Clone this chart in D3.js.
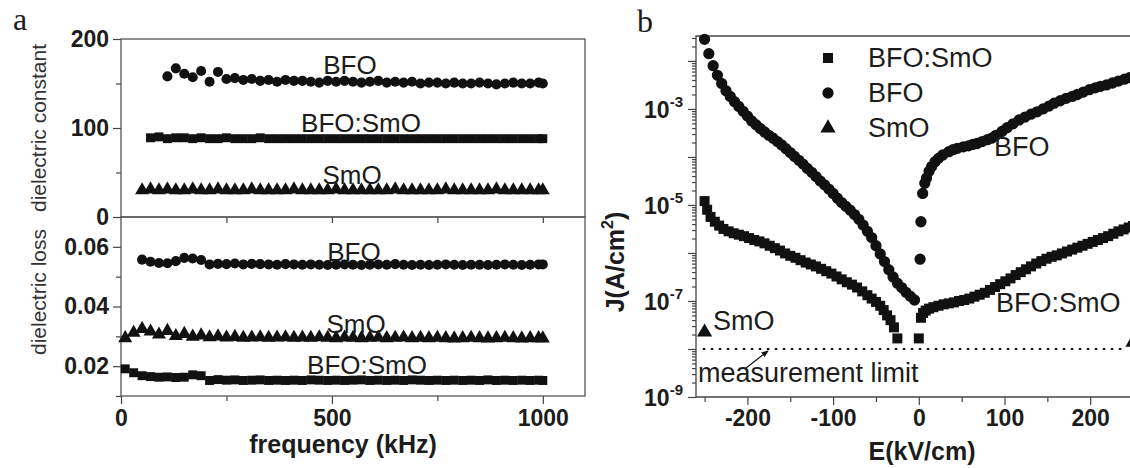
<!DOCTYPE html>
<meta charset="utf-8">
<style>
body{margin:0;background:#fff;}
svg text{font-family:"Liberation Sans", Arial, sans-serif; fill:#1c1c1c;}
.tick text{font-weight:bold;font-size:23px;}
.tick line{stroke:#444;stroke-width:1.2px;}
.note{font-size:26px;}
.title{font-size:25px;font-weight:bold;}
.ytitle{font-size:21px;fill:#333;}
.panel{font-family:"Liberation Serif", "DejaVu Serif", serif !important;font-size:32px;}
</style>
<svg id="fig" width="1130" height="468"></svg>
<script src="https://d3js.org/d3.v7.min.js"></script>
<script>
// ---- panel a data: frequency (kHz) shared by the six dielectric series ----
const freq = [10,30,50,70,90,110,130,150,170,190,
  210,230,250,270,290,310,330,350,370,390,
  410,430,450,470,490,510,530,550,570,590,
  610,630,650,670,690,710,730,750,770,790,
  810,830,850,870,890,910,930,950,970,990,
  1000]

// dielectric constant
const bfoConst = [null,null,null,null,null,158,167,161,157,164,
  152,163,155,156,154,155,153,154,152,154,
  153,153,152,151,153,152,153,152,151,152,
  153,151,152,151,152,150,151,151,150,151,
  150,150,151,150,149,150,151,150,150,151,
  150]
const bfoSmoConst = [null,null,null,89,90,88,89,89,88,89,
  88,88,89,88,88,88,89,88,88,88,
  88,88,88,88,88,88,88,88,88,88,
  88,88,88,88,88,88,88,88,88,88,
  88,88,88,88,88,88,88,88,88,88,
  88]
const smoConst = [null,null,30,31,30,31,30,30,31,30,
  30,31,30,30,30,31,30,30,30,30,
  31,30,30,30,30,31,30,30,30,30,
  30,30,31,30,30,30,30,30,31,30,
  30,30,30,30,31,30,30,30,30,30,
  30]

// dielectric loss
const bfoLoss = [null,null,0.0557,0.0550,0.0546,0.0545,0.0552,0.0563,0.0561,0.0556,
  0.0541,0.0543,0.0542,0.0544,0.0541,0.0543,0.0542,0.0541,0.0540,0.0542,
  0.0541,0.0540,0.0541,0.0540,0.0539,0.0540,0.0541,0.0540,0.0539,0.0540,
  0.0541,0.0540,0.0542,0.0540,0.0539,0.0540,0.0539,0.0540,0.0541,0.0540,
  0.0539,0.0540,0.0540,0.0539,0.0540,0.0541,0.0540,0.0539,0.0540,0.0541,
  0.0541]
const smoLoss = [0.0294,0.0312,0.0325,0.0316,0.0306,0.0318,0.0301,0.0308,0.0299,0.0303,
  0.0297,0.0300,0.0296,0.0298,0.0295,0.0296,0.0297,0.0295,0.0296,0.0297,
  0.0295,0.0296,0.0295,0.0297,0.0295,0.0294,0.0296,0.0295,0.0294,0.0295,
  0.0296,0.0294,0.0295,0.0296,0.0294,0.0295,0.0294,0.0295,0.0294,0.0293,
  0.0294,0.0295,0.0294,0.0293,0.0294,0.0295,0.0294,0.0293,0.0294,0.0294,
  0.0293]
const bfoSmoLoss = [0.0191,0.0178,0.0168,0.0165,0.0163,0.0164,0.0162,0.0163,0.0171,0.0168,
  0.0152,0.0155,0.0153,0.0154,0.0152,0.0153,0.0154,0.0152,0.0153,0.0152,
  0.0153,0.0152,0.0154,0.0153,0.0152,0.0153,0.0152,0.0153,0.0154,0.0152,
  0.0153,0.0152,0.0153,0.0152,0.0154,0.0153,0.0152,0.0153,0.0152,0.0153,
  0.0152,0.0153,0.0152,0.0154,0.0152,0.0153,0.0152,0.0153,0.0152,0.0153,
  0.0152]

// ---- panel b data: E (kV/cm) and log10 of J (A/cm2) ----
const bfoE = [-250,-245,-240,-235,-230,-225,-220,-215,-210,-205,
  -200,-195,-190,-185,-180,-175,-170,-165,-160,-155,
  -150,-145,-140,-135,-130,-125,-120,-115,-110,-105,
  -100,-95,-90,-85,-80,-75,-70,-65,-60,-55,
  -50,-45,-40,-35,-30,-25,-20,-15,-10,-5,
  1.5,2.5,4.5,7,9,12,15,19,23,28,
  35,40,45,52,58,63,68,74,80,85,
  90,97,103,110,117,124,131,138,145,152,
  158,165,172,179,185,192,199,206,212,219,
  226,233,240,246,250]
const bfoLogJ = [-1.55,-1.85,-2.10,-2.30,-2.47,-2.62,-2.74,-2.85,-2.95,-3.05,
  -3.15,-3.25,-3.33,-3.41,-3.48,-3.55,-3.61,-3.68,-3.75,-3.83,
  -3.91,-3.99,-4.07,-4.15,-4.24,-4.32,-4.41,-4.50,-4.58,-4.67,
  -4.76,-4.86,-4.95,-5.03,-5.11,-5.20,-5.30,-5.42,-5.55,-5.68,
  -5.85,-6.02,-6.18,-6.35,-6.50,-6.63,-6.72,-6.82,-6.90,-6.98,
  -6.13,-5.35,-4.76,-4.55,-4.44,-4.30,-4.20,-4.10,-4.03,-3.96,
  -3.89,-3.85,-3.82,-3.79,-3.77,-3.74,-3.72,-3.68,-3.64,-3.61,
  -3.55,-3.47,-3.39,-3.31,-3.23,-3.17,-3.11,-3.06,-3.00,-2.94,
  -2.88,-2.83,-2.78,-2.74,-2.70,-2.65,-2.60,-2.56,-2.53,-2.50,
  -2.46,-2.42,-2.38,-2.35,-2.33]

const bfoSmoE = [-250,-247,-243,-238,-233,-228,-222,-216,-210,-204,
  -198,-192,-186,-180,-174,-168,-162,-156,-150,-144,
  -138,-132,-126,-120,-114,-108,-102,-96,-90,-84,
  -78,-72,-66,-60,-55,-50,-45,-41,-37,-33,
  -29,-25,
  0,2.5,5,8,12,17,23,29,35,41,
  47,53,59,65,71,77,83,89,95,101,
  107,113,119,125,131,137,143,149,155,161,
  167,173,179,185,191,197,203,209,215,221,
  227,233,239,245,250]
const bfoSmoLogJ = [-4.92,-5.10,-5.25,-5.35,-5.43,-5.50,-5.55,-5.59,-5.62,-5.65,
  -5.69,-5.73,-5.76,-5.80,-5.85,-5.90,-5.95,-6.01,-6.06,-6.10,
  -6.15,-6.20,-6.24,-6.28,-6.33,-6.38,-6.43,-6.49,-6.55,-6.61,
  -6.66,-6.72,-6.80,-6.88,-6.95,-7.02,-7.10,-7.19,-7.30,-7.40,
  -7.55,-7.78,
  -7.78,-7.35,-7.25,-7.20,-7.16,-7.13,-7.10,-7.07,-7.05,-7.03,
  -7.00,-6.98,-6.95,-6.91,-6.87,-6.83,-6.77,-6.71,-6.65,-6.59,
  -6.53,-6.46,-6.40,-6.34,-6.28,-6.22,-6.17,-6.12,-6.08,-6.05,
  -6.01,-5.97,-5.93,-5.89,-5.85,-5.81,-5.77,-5.73,-5.69,-5.65,
  -5.60,-5.55,-5.51,-5.47,-5.44]

const smoE = [-250, 250]
const smoLogJ = [-7.65, -7.86]
const measLimit = 1e-8

const svg = d3.select('#fig')
const INK = '#111'
const plain = d => String(d) // hyphen minus like the original, not U+2212

// scales
const xA = d3.scaleLinear().domain([0, 1100]).range([121, 585])
const yK = d3.scaleLinear().domain([0, 200]).range([217, 39])
const yL = d3.scaleLinear().domain([0.01, 0.07]).range([396, 217])
const xB = d3.scaleLinear().domain([-260, 260]).range([696, 1141.6])
const yB = d3.scaleLog().domain([1e-9, 0.033]).range([397, 36])

function scatter(xs, ys, xs_, ys_, shape, size) {
  const pts = xs.map((x, i) => [x, ys[i]]).filter(d => d[1] != null)
  svg.append('g').selectAll('path').data(pts).join('path')
    .attr('d', d3.symbol(shape, size))
    .attr('transform', d => `translate(${xs_(d[0])},${ys_(d[1])})`)
    .attr('fill', INK)
}

function axis(gen, pos, horizontal) {
  const g = svg.append('g')
    .attr('transform', horizontal ? `translate(0,${pos})` : `translate(${pos},0)`)
    .call(gen)
  g.attr('font-size', null).attr('font-family', null)
  g.select('.domain').remove()
  return g
}

// ---------- panel a ----------
axis(d3.axisLeft(yK).tickValues([0, 100, 200]).tickSize(8).tickPadding(4).tickFormat(plain), 121)
axis(d3.axisLeft(yK).tickValues([50, 150]).tickSize(5).tickFormat(''), 121)
axis(d3.axisLeft(yL).tickValues([0.02, 0.04, 0.06]).tickSize(8).tickPadding(4).tickFormat(d3.format('.2f')), 121)
axis(d3.axisLeft(yL).tickValues([0.01, 0.03, 0.05]).tickSize(5).tickFormat(''), 121)
axis(d3.axisBottom(xA).tickValues([250, 500, 750, 1000]).tickSize(6).tickFormat(''), 217, true)
axis(d3.axisBottom(xA).tickValues([0, 500, 1000]).tickSize(8).tickPadding(6).tickFormat(plain), 396, true)
axis(d3.axisBottom(xA).tickValues([250, 750]).tickSize(5).tickFormat(''), 396, true)

svg.append('rect').attr('x', xA(0)).attr('y', yK(200))
  .attr('width', xA(1100) - xA(0)).attr('height', yK(0) - yK(200))
  .attr('fill', 'none').attr('stroke', '#555').attr('stroke-width', 1.3)
svg.append('rect').attr('x', xA(0)).attr('y', yL(0.07))
  .attr('width', xA(1100) - xA(0)).attr('height', yL(0.01) - yL(0.07))
  .attr('fill', 'none').attr('stroke', '#555').attr('stroke-width', 1.3)

scatter(freq, bfoConst, xA, yK, d3.symbolCircle, 80)
scatter(freq, bfoSmoConst, xA, yK, d3.symbolSquare, 80)
scatter(freq, smoConst, xA, yK, d3.symbolTriangle, 85)
scatter(freq, bfoLoss, xA, yL, d3.symbolCircle, 80)
scatter(freq, smoLoss, xA, yL, d3.symbolTriangle, 85)
scatter(freq, bfoSmoLoss, xA, yL, d3.symbolSquare, 80)

const notesA = [
  ['BFO', 350, 74], ['BFO:SmO', 361, 132], ['SmO', 352, 184],
  ['BFO', 354, 261], ['SmO', 356, 333], ['BFO:SmO', 367, 374]
]
svg.append('g').selectAll('text').data(notesA).join('text')
  .attr('class', 'note').attr('text-anchor', 'middle')
  .attr('x', d => d[1]).attr('y', d => d[2]).text(d => d[0])

svg.append('text').attr('class', 'ytitle').attr('text-anchor', 'middle')
  .attr('transform', 'translate(46,128) rotate(-90)').text('dielectric constant')
svg.append('text').attr('class', 'ytitle').attr('text-anchor', 'middle')
  .attr('transform', 'translate(46,292) rotate(-90)').text('dielectric loss')
svg.append('text').attr('class', 'title').attr('text-anchor', 'middle')
  .attr('x', 343).attr('y', 453).text('frequency (kHz)')
svg.append('text').attr('class', 'panel').attr('x', 13).attr('y', 30).text('a')

// ---------- panel b ----------
const decades = d3.range(-9, -1)
const minorB = []
decades.forEach(p => { for (let m = 2; m <= 9; m++) if (m * 10 ** p <= 0.033) minorB.push(m * 10 ** p) })
axis(d3.axisLeft(yB).tickValues(decades.map(p => 10 ** p)).tickSize(8).tickFormat(''), 696)
axis(d3.axisLeft(yB).tickValues(minorB).tickSize(4).tickFormat(''), 696)
axis(d3.axisBottom(xB).tickValues([-200, -100, 0, 100, 200]).tickSize(8).tickPadding(5).tickFormat(plain), 397, true)
axis(d3.axisBottom(xB).tickValues([-250, -150, -50, 50, 150, 250]).tickSize(5).tickFormat(''), 397, true)

const yLab = svg.append('g').selectAll('text').data([-9, -7, -5, -3]).join('text')
  .attr('text-anchor', 'end').attr('font-weight', 'bold')
  .attr('x', 683).attr('y', d => yB(10 ** d) + 9)
yLab.append('tspan').attr('font-size', 23).text('10')
yLab.append('tspan').attr('font-size', 15).attr('dy', -11).text(d => String(d))

svg.append('path')
  .attr('d', `M${xB(260)},${yB(0.033)}H${xB(-260)}V${yB(1e-9)}H${xB(260)}`)
  .attr('fill', 'none').attr('stroke', '#444').attr('stroke-width', 1.3)

svg.append('line')
  .attr('x1', xB(-252)).attr('x2', xB(242))
  .attr('y1', yB(measLimit)).attr('y2', yB(measLimit))
  .attr('stroke', INK).attr('stroke-width', 2).attr('stroke-dasharray', '2.5,5.5')

svg.append('defs').append('marker').attr('id', 'ah')
  .attr('viewBox', '0 0 10 10').attr('refX', 9).attr('refY', 5)
  .attr('markerWidth', 6).attr('markerHeight', 6).attr('orient', 'auto')
  .append('path').attr('d', 'M0,1L10,5L0,9Z').attr('fill', INK)
svg.append('line')
  .attr('x1', xB(-202)).attr('y1', yB(10 ** -8.4))
  .attr('x2', xB(-176)).attr('y2', yB(10 ** -8.04))
  .attr('stroke', INK).attr('stroke-width', 1.2).attr('marker-end', 'url(#ah)')

scatter(bfoSmoE, bfoSmoLogJ.map(v => 10 ** v), xB, yB, d3.symbolSquare, 100)
scatter(bfoE, bfoLogJ.map(v => 10 ** v), xB, yB, d3.symbolCircle, 100)
scatter(smoE, smoLogJ.map(v => 10 ** v), xB, yB, d3.symbolTriangle, 100)

// legend
const legend = [['BFO:SmO', d3.symbolSquare], ['BFO', d3.symbolCircle], ['SmO', d3.symbolTriangle]]
const lg = svg.append('g').selectAll('g').data(legend).join('g')
  .attr('transform', (d, i) => `translate(828,${58 + i * 35})`)
lg.append('path').attr('d', d => d3.symbol(d[1], 100)()).attr('fill', INK)
lg.append('text').attr('class', 'note').style('font-size', '27px')
  .attr('x', 40).attr('y', 9).text(d => d[0])

const notesB = [['BFO', 994, 156], ['BFO:SmO', 996, 312], ['SmO', 713, 330], ['measurement limit', 698, 382]]
svg.append('g').selectAll('text').data(notesB).join('text')
  .attr('class', 'note').style('font-size', '27px')
  .attr('x', d => d[1]).attr('y', d => d[2]).text(d => d[0])

const jt = svg.append('text').attr('class', 'title').attr('text-anchor', 'middle')
  .attr('transform', 'translate(624,262) rotate(-90)')
jt.append('tspan').text('J(A/cm')
jt.append('tspan').attr('font-size', 16).attr('dy', -11).text('2')
jt.append('tspan').attr('dy', 11).text(')')
svg.append('text').attr('class', 'title').attr('text-anchor', 'middle')
  .attr('x', 922).attr('y', 460).text('E(kV/cm)')
svg.append('text').attr('class', 'panel').attr('x', 637).attr('y', 32).text('b')
</script>
